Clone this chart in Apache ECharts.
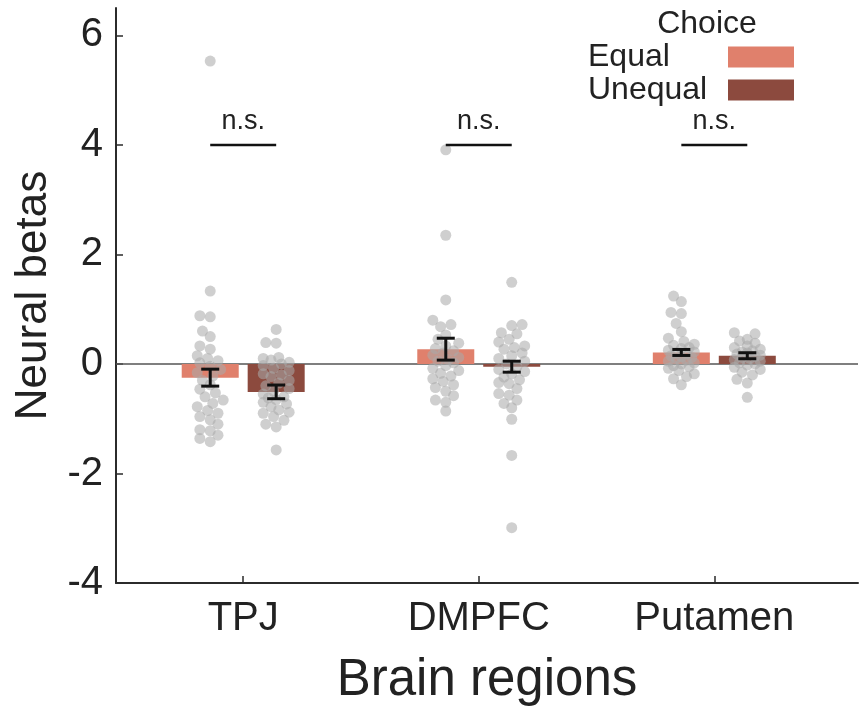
<!DOCTYPE html>
<html>
<head>
<meta charset="utf-8">
<script src="https://cdn.jsdelivr.net/npm/echarts@6/dist/echarts.min.js"></script>
<style>
  html, body { margin: 0; padding: 0; background: #fff; }
  #chart { width: 861px; height: 711px; }
</style>
</head>
<body>
<div id="chart"></div>
<script>
// categories
const regions = ['TPJ', 'DMPFC', 'Putamen']
const conditions = ['Equal', 'Unequal']

// bar heights (means) and standard errors
const equalMeans = [-0.25, 0.27, 0.21]
const equalSE = [0.155, 0.2, 0.055]
const unequalMeans = [-0.51, -0.05, 0.15]
const unequalSE = [0.125, 0.1, 0.055]

// individual subjects
const tpjEqual = [5.53, 1.33, 0.88, 0.86, 0.6, 0.5, 0.33, 0.27, 0.15, 0.1, 0.06, 0.02, -0.04, -0.1, -0.16, -0.22, -0.3, -0.38, -0.46, -0.53, -0.6, -0.66, -0.72, -0.78, -0.85, -0.9, -0.96, -1.02, -1.1, -1.2, -1.22, -1.3, -1.36, -1.42]
const tpjUnequal = [0.63, 0.39, 0.38, 0.12, 0.1, 0.07, 0.03, 0.0, -0.03, -0.08, -0.12, -0.18, -0.2, -0.23, -0.3, -0.35, -0.4, -0.45, -0.5, -0.55, -0.6, -0.62, -0.65, -0.7, -0.73, -0.78, -0.84, -0.88, -0.9, -0.96, -1.03, -1.1, -1.15, -1.57]
const dmpfcEqual = [3.91, 2.35, 1.17, 0.8, 0.72, 0.68, 0.53, 0.45, 0.38, 0.33, 0.28, 0.24, 0.2, 0.16, 0.12, 0.08, 0.05, 0.02, -0.03, -0.08, -0.12, -0.17, -0.22, -0.27, -0.32, -0.38, -0.43, -0.5, -0.58, -0.66, -0.7, -0.86]
const dmpfcUnequal = [1.49, 0.72, 0.7, 0.57, 0.55, 0.45, 0.4, 0.33, 0.3, 0.27, 0.2, 0.15, 0.1, 0.05, 0.0, -0.05, -0.1, -0.14, -0.18, -0.24, -0.29, -0.34, -0.36, -0.45, -0.54, -0.57, -0.66, -0.72, -0.8, -1.01, -1.67, -2.99]
const putamenEqual = [1.24, 1.14, 0.94, 0.92, 0.74, 0.59, 0.47, 0.41, 0.36, 0.34, 0.3, 0.28, 0.25, 0.22, 0.2, 0.18, 0.15, 0.13, 0.12, 0.1, 0.07, 0.05, 0.02, 0.0, -0.03, -0.05, -0.08, -0.12, -0.18, -0.23, -0.27, -0.38]
const putamenUnequal = [0.57, 0.55, 0.45, 0.42, 0.38, 0.33, 0.3, 0.27, 0.24, 0.22, 0.2, 0.18, 0.16, 0.14, 0.12, 0.1, 0.08, 0.05, 0.02, 0.0, -0.02, -0.06, -0.1, -0.15, -0.2, -0.28, -0.35, -0.61]

// significance brackets
const sigY = [4, 4, 4]
const sigText = ['n.s.', 'n.s.', 'n.s.']

// axis ticks
const xTicks = [1, 2, 3]
const yTicks = [-4, -2, 0, 2, 4, 6]

const FONT = 'Liberation Sans, Arial, Helvetica, sans-serif'
const TEXT = '#222'
const colors = ['#E0806C', '#8C4A3E']
const OFFSET = 0.14
const BAR_W = 0.242

const equalPoints = [tpjEqual, dmpfcEqual, putamenEqual]
const unequalPoints = [tpjUnequal, dmpfcUnequal, putamenUnequal]

// simple swarm: place each dot at the nearest free horizontal slot
function swarm( values, center ) {
  const dx = 0.047, dy = 0.2, step = 0.011
  const slots = [0, -1, 1, -2, 2, -3, 3, -4, 4, -5, 5]
  const placed = []
  values.slice().sort( ( a, b ) => a - b ).forEach( v => {
    let best = 0, bestD = -1
    for ( const k of slots ) {
      const x = k * step
      let dmin = Infinity
      placed.forEach( p => {
        const d = Math.hypot( ( p[0] - x ) / dx, ( p[1] - v ) / dy )
        if ( d < dmin ) dmin = d
      } )
      if ( dmin >= 0.8 ) { best = x; bestD = dmin; break }
      if ( dmin > bestD ) { bestD = dmin; best = x }
    }
    placed.push( [best, v] )
  } )
  return placed.map( p => [center + p[0], p[1]] )
}

function barItem( params, api ) {
  const x = api.value( 0 )
  const m = api.value( 1 )
  const p0 = api.coord( [x - BAR_W / 2, m] )
  const p1 = api.coord( [x + BAR_W / 2, 0] )
  return {
    type : 'rect',
    shape : { x : p0[0], y : Math.min( p0[1], p1[1] ), width : p1[0] - p0[0], height : Math.abs( p1[1] - p0[1] ) },
    style : { fill : api.visual( 'color' ) }
  }
}

function errItem( params, api ) {
  const x = api.value( 0 )
  const a = api.coord( [x, api.value( 1 )] )
  const b = api.coord( [x, api.value( 2 )] )
  const c = 9
  const st = { stroke : '#111', lineWidth : 3 }
  return {
    type : 'group',
    children : [
      { type : 'line', shape : { x1 : a[0], y1 : a[1], x2 : b[0], y2 : b[1] }, style : st },
      { type : 'line', shape : { x1 : a[0] - c, y1 : a[1], x2 : a[0] + c, y2 : a[1] }, style : st },
      { type : 'line', shape : { x1 : b[0] - c, y1 : b[1], x2 : b[0] + c, y2 : b[1] }, style : st }
    ]
  }
}

function sigItem( params, api ) {
  const x = api.value( 0 )
  const l = api.coord( [x - OFFSET, api.value( 1 )] )
  const r = api.coord( [x + OFFSET, api.value( 1 )] )
  return {
    type : 'group',
    children : [
      { type : 'line', shape : { x1 : l[0], y1 : l[1], x2 : r[0], y2 : r[1] }, style : { stroke : '#111', lineWidth : 2.5 } },
      { type : 'text', x : ( l[0] + r[0] ) / 2, y : l[1] - 10, style : { text : sigText[params.dataIndex], fontSize : 27, fontFamily : FONT, fill : TEXT, align : 'center', verticalAlign : 'bottom' } }
    ]
  }
}

function getSeries() {
  const series = []
  const means = [equalMeans, unequalMeans]
  const ses = [equalSE, unequalSE]
  const pts = [equalPoints, unequalPoints]
  conditions.forEach( ( name, c ) => {
    const off = c === 0 ? -OFFSET : OFFSET
    series.push( {
      name : name,
      type : 'custom',
      renderItem : barItem,
      encode : { x : 0, y : 1 },
      itemStyle : { color : colors[c] },
      z : 2,
      data : regions.map( ( r, i ) => [xTicks[i] + off, means[c][i]] ),
      markLine : c === 0 ? {
        silent : true,
        symbol : 'none',
        label : { show : false },
        lineStyle : { color : '#555', width : 1.5, type : 'solid' },
        data : [{ yAxis : 0 }],
        z : 1
      } : undefined
    } )
  } )
  conditions.forEach( ( name, c ) => {
    const off = c === 0 ? -OFFSET : OFFSET
    regions.forEach( ( r, i ) => {
      series.push( {
        name : r + ' ' + name + ' subjects',
        type : 'scatter',
        symbolSize : 11,
        itemStyle : { color : 'rgba(170,170,170,0.7)' },
        z : 3,
        data : swarm( pts[c][i], xTicks[i] + off )
      } )
    } )
  } )
  conditions.forEach( ( name, c ) => {
    const off = c === 0 ? -OFFSET : OFFSET
    series.push( {
      name : name + ' SE',
      type : 'custom',
      renderItem : errItem,
      encode : { x : 0, y : [1, 2] },
      z : 4,
      data : regions.map( ( r, i ) => [xTicks[i] + off, means[c][i] - ses[c][i], means[c][i] + ses[c][i]] )
    } )
  } )
  series.push( {
    name : 'sig',
    type : 'custom',
    renderItem : sigItem,
    encode : { x : 0, y : 1 },
    z : 4,
    data : regions.map( ( r, i ) => [xTicks[i], sigY[i]] )
  } )
  return series
}

const chart = echarts.init( document.getElementById( 'chart' ) )
chart.setOption( {
  animation : false,
  backgroundColor : '#fff',
  textStyle : { fontFamily : FONT },
  title : {
    text : 'Choice',
    left : 707,
    top : 8,
    padding : 0,
    textAlign : 'center',
    textStyle : { fontSize : 32, fontWeight : 'normal', color : TEXT, fontFamily : FONT }
  },
  legend : {
    data : conditions,
    orient : 'vertical',
    left : 588,
    top : 41,
    padding : 0,
    align : 'right',
    icon : 'rect',
    itemWidth : 66,
    itemHeight : 21,
    itemGap : 1,
    selectedMode : false,
    formatter : n => '{t|' + n + '}',
    textStyle : {
      color : TEXT,
      fontFamily : FONT,
      rich : { t : { fontSize : 32, width : 135, align : 'left', lineHeight : 21, fontFamily : FONT, color : TEXT } }
    }
  },
  grid : { left : 116, right : 3, top : 8, bottom : 128, containLabel : false, outerBoundsMode : 'none' },
  xAxis : {
    type : 'value',
    min : 0.46,
    max : 3.61,
    name : 'Brain regions',
    nameLocation : 'middle',
    nameGap : 72,
    nameTextStyle : { fontSize : 51, color : TEXT, fontFamily : FONT },
    axisLine : { show : true, onZero : false, lineStyle : { color : '#2b2b2b', width : 2 } },
    axisTick : { show : true, inside : true, length : 7, customValues : xTicks, lineStyle : { color : '#2b2b2b', width : 1.5 } },
    axisLabel : { customValues : xTicks, formatter : v => regions[Math.round( v ) - 1], fontSize : 40, margin : 16, color : TEXT, fontFamily : FONT },
    splitLine : { show : false }
  },
  yAxis : {
    type : 'value',
    min : -4,
    max : 6.5,
    name : 'Neural betas',
    nameLocation : 'middle',
    nameGap : 60,
    nameTextStyle : { fontSize : 44, color : TEXT, fontFamily : FONT },
    axisLine : { show : true, onZero : false, lineStyle : { color : '#2b2b2b', width : 2 } },
    axisTick : { show : true, inside : true, length : 7, customValues : yTicks, lineStyle : { color : '#2b2b2b', width : 1.5 } },
    axisLabel : { customValues : yTicks, fontSize : 40, margin : 13, color : TEXT, fontFamily : FONT },
    splitLine : { show : false }
  },
  series : getSeries()
} )
</script>
</body>
</html>
